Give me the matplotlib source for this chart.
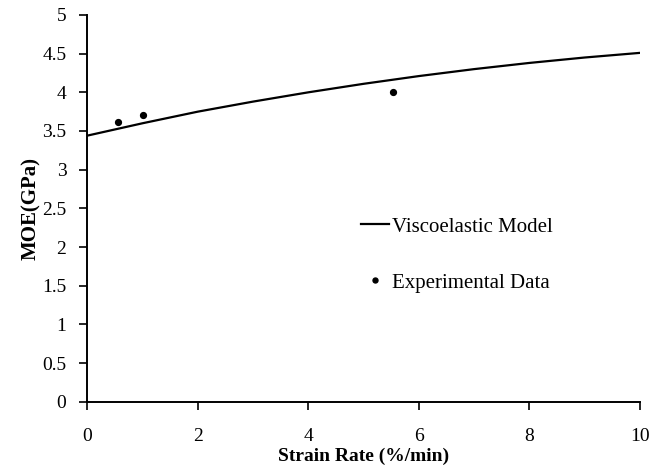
import matplotlib.pyplot as plt

# model curve
model_x = [0, 1, 2, 3, 4, 5, 6, 7, 8, 9, 10]
model_y = [3.44, 3.60, 3.75, 3.88, 4.00, 4.11, 4.21, 4.30, 4.38, 4.45, 4.51]

# experimental points
exp_x = [0.55, 1.0, 5.53]
exp_y = [3.61, 3.71, 4.0]

plt.rcParams['font.family'] = ['Liberation Serif', 'DejaVu Serif']
fig = plt.figure(figsize=(6.68, 4.68), dpi=100)
ax = fig.add_axes([0.1307, 0.1417, 0.8273, 0.8263])

ax.plot(model_x, model_y, color='black', lw=1.6, label='Viscoelastic Model')
ax.plot(exp_x, exp_y, 'o', color='black', ms=4.2, ls='none', label='Experimental Data')

ax.set_xlim(0, 10)
ax.set_ylim(0, 5)
ax.set_xticks([0, 2, 4, 6, 8, 10])
ax.set_yticks([0, 0.5, 1, 1.5, 2, 2.5, 3, 3.5, 4, 4.5, 5])
ax.set_yticklabels(['0', '0.5', '1', '1.5', '2', '2.5', '3', '3.5', '4', '4.5', '5'])
ax.tick_params(direction='out', length=6, width=1.2, labelsize=14)
ax.tick_params(axis='x', pad=13)
ax.tick_params(axis='y', pad=9)
for s in ['top', 'right']:
    ax.spines[s].set_visible(False)
for s in ['left', 'bottom']:
    ax.spines[s].set_linewidth(1.4)

ax.set_xlabel('Strain Rate (%/min)', fontsize=14, fontweight='bold', labelpad=2)
ax.set_ylabel('MOE(GPa)', fontsize=15, fontweight='bold', labelpad=1)

ax.legend(loc='center left', bbox_to_anchor=(0.461, 0.38), frameon=False,
          fontsize=15, handlelength=1.35, handletextpad=0.15, labelspacing=1.75,
          markerscale=0.85)

plt.savefig('out.png', dpi=100)
